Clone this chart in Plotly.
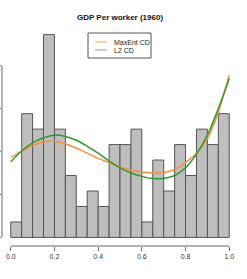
import plotly.graph_objects as go

# Histogram (density) of GDP per worker (1960), 20 bins of width 0.05
bin_left = [0.00, 0.05, 0.10, 0.15, 0.20, 0.25, 0.30, 0.35, 0.40, 0.45,
            0.50, 0.55, 0.60, 0.65, 0.70, 0.75, 0.80, 0.85, 0.90, 0.95]
density = [0.18, 1.44, 1.26, 2.36, 1.26, 0.72, 0.36, 0.54, 0.36, 1.08,
           1.08, 1.26, 0.18, 0.90, 0.54, 1.08, 0.72, 1.26, 1.08, 1.44]
bin_width = 0.05

# Fitted densities
curve_x = [0.00, 0.05, 0.10, 0.15, 0.20, 0.25, 0.30, 0.35, 0.40, 0.45, 0.50,
           0.55, 0.60, 0.65, 0.70, 0.75, 0.80, 0.85, 0.90, 0.95, 1.00]
maxent_y = [0.93, 1.005, 1.07, 1.11, 1.12, 1.09, 1.04, 0.98, 0.92, 0.87, 0.82,
            0.785, 0.76, 0.75, 0.755, 0.79, 0.87, 0.98, 1.15, 1.46, 1.89]
l2_y = [0.88, 1.005, 1.10, 1.16, 1.19, 1.175, 1.13, 1.06, 0.98, 0.89, 0.81,
        0.75, 0.71, 0.685, 0.685, 0.72, 0.81, 0.97, 1.19, 1.50, 1.85]

series_names = ["MaxEnt CD", "L2 CD"]
series_colors = ["#FF8C3A", "#2E9A2E"]
legend_colors = ["#FFC191", "#9ECF9E"]

x_ticks = [0.0, 0.2, 0.4, 0.6, 0.8, 1.0]
x_tick_labels = ["0.0", "0.2", "0.4", "0.6", "0.8", "1.0"]
y_ticks = [0.0, 0.5, 1.0, 1.5, 2.0]

title = "GDP Per worker (1960)"
FONT = "Liberation Sans, Arial, Helvetica, sans-serif"

W, H = 247, 279
ML, MR, MT, MB = 2, 9, 26, 33
PW, PH = W - ML - MR, H - MT - MB


def px_to_paper(px, py):
    return (px - ML) / PW, (H - MB - py) / PH


fig = go.Figure()
fig.add_trace(go.Bar(
    x=[b + bin_width / 2 for b in bin_left], y=density, width=bin_width,
    marker=dict(color="#BEBEBE", line=dict(color="#555555", width=1)),
    showlegend=False, hoverinfo="skip"))
for name, ys, col in zip(series_names, [maxent_y, l2_y], series_colors):
    fig.add_trace(go.Scatter(
        x=curve_x, y=ys, mode="lines", name=name, showlegend=False,
        line=dict(color=col, width=1.5, shape="spline", smoothing=1.0)))

# R-style axis lines spanning only the tick range
fig.add_shape(type="line", xref="x", yref="paper", x0=0, x1=1, y0=0, y1=0,
              line=dict(color="#666666", width=1))
fig.add_shape(type="line", xref="paper", yref="y", x0=0, x1=0, y0=0, y1=2,
              line=dict(color="#666666", width=1))

# Legend box (R style)
bx0, by0 = px_to_paper(88, 58)
bx1, by1 = px_to_paper(151, 33)
fig.add_shape(type="rect", xref="paper", yref="paper", x0=bx0, y0=by0, x1=bx1, y1=by1,
              line=dict(color="#555555", width=1), fillcolor="white", layer="above")
for i, (name, col) in enumerate(zip(series_names, legend_colors)):
    ly = 42 + 8 * i
    lx0, ly0 = px_to_paper(95, ly)
    lx1, _ = px_to_paper(107, ly)
    fig.add_shape(type="line", xref="paper", yref="paper", x0=lx0, x1=lx1, y0=ly0, y1=ly0,
                  line=dict(color=col, width=1.5), layer="above")
    tx, _ = px_to_paper(112, ly)
    fig.add_annotation(xref="paper", yref="paper", x=tx, y=ly0, text=name,
                       showarrow=False, xanchor="left", yanchor="middle",
                       font=dict(family=FONT, size=7, color="#222222"))

fig.update_layout(
    width=W, height=H,
    margin=dict(l=ML, r=MR, t=MT, b=MB, autoexpand=False),
    paper_bgcolor="white", plot_bgcolor="white",
    bargap=0,
    showlegend=False,
    title=dict(text="<b>" + title + "</b>", x=120 / W, xanchor="center",
               y=1 - 17 / H, yanchor="middle",
               font=dict(family=FONT, size=8, color="#111111")),
    xaxis=dict(range=[-0.04, 1.04], showgrid=False, zeroline=False, showline=False,
               automargin=False,
               tickvals=x_ticks, ticktext=x_tick_labels, ticks="outside", ticklen=4,
               tickcolor="#666666", tickwidth=1,
               tickfont=dict(family=FONT, size=7, color="#333333")),
    yaxis=dict(range=[-0.1, 2.46], showgrid=False, zeroline=False, showline=False,
               automargin=False,
               tickvals=y_ticks, ticks="outside", ticklen=4, tickcolor="#666666",
               showticklabels=False),
)

fig.write_html("out.html",
               config={"displayModeBar": False, "staticPlot": True},
               post_script="document.body.style.margin='0';"
                           "document.body.style.overflow='hidden';")
